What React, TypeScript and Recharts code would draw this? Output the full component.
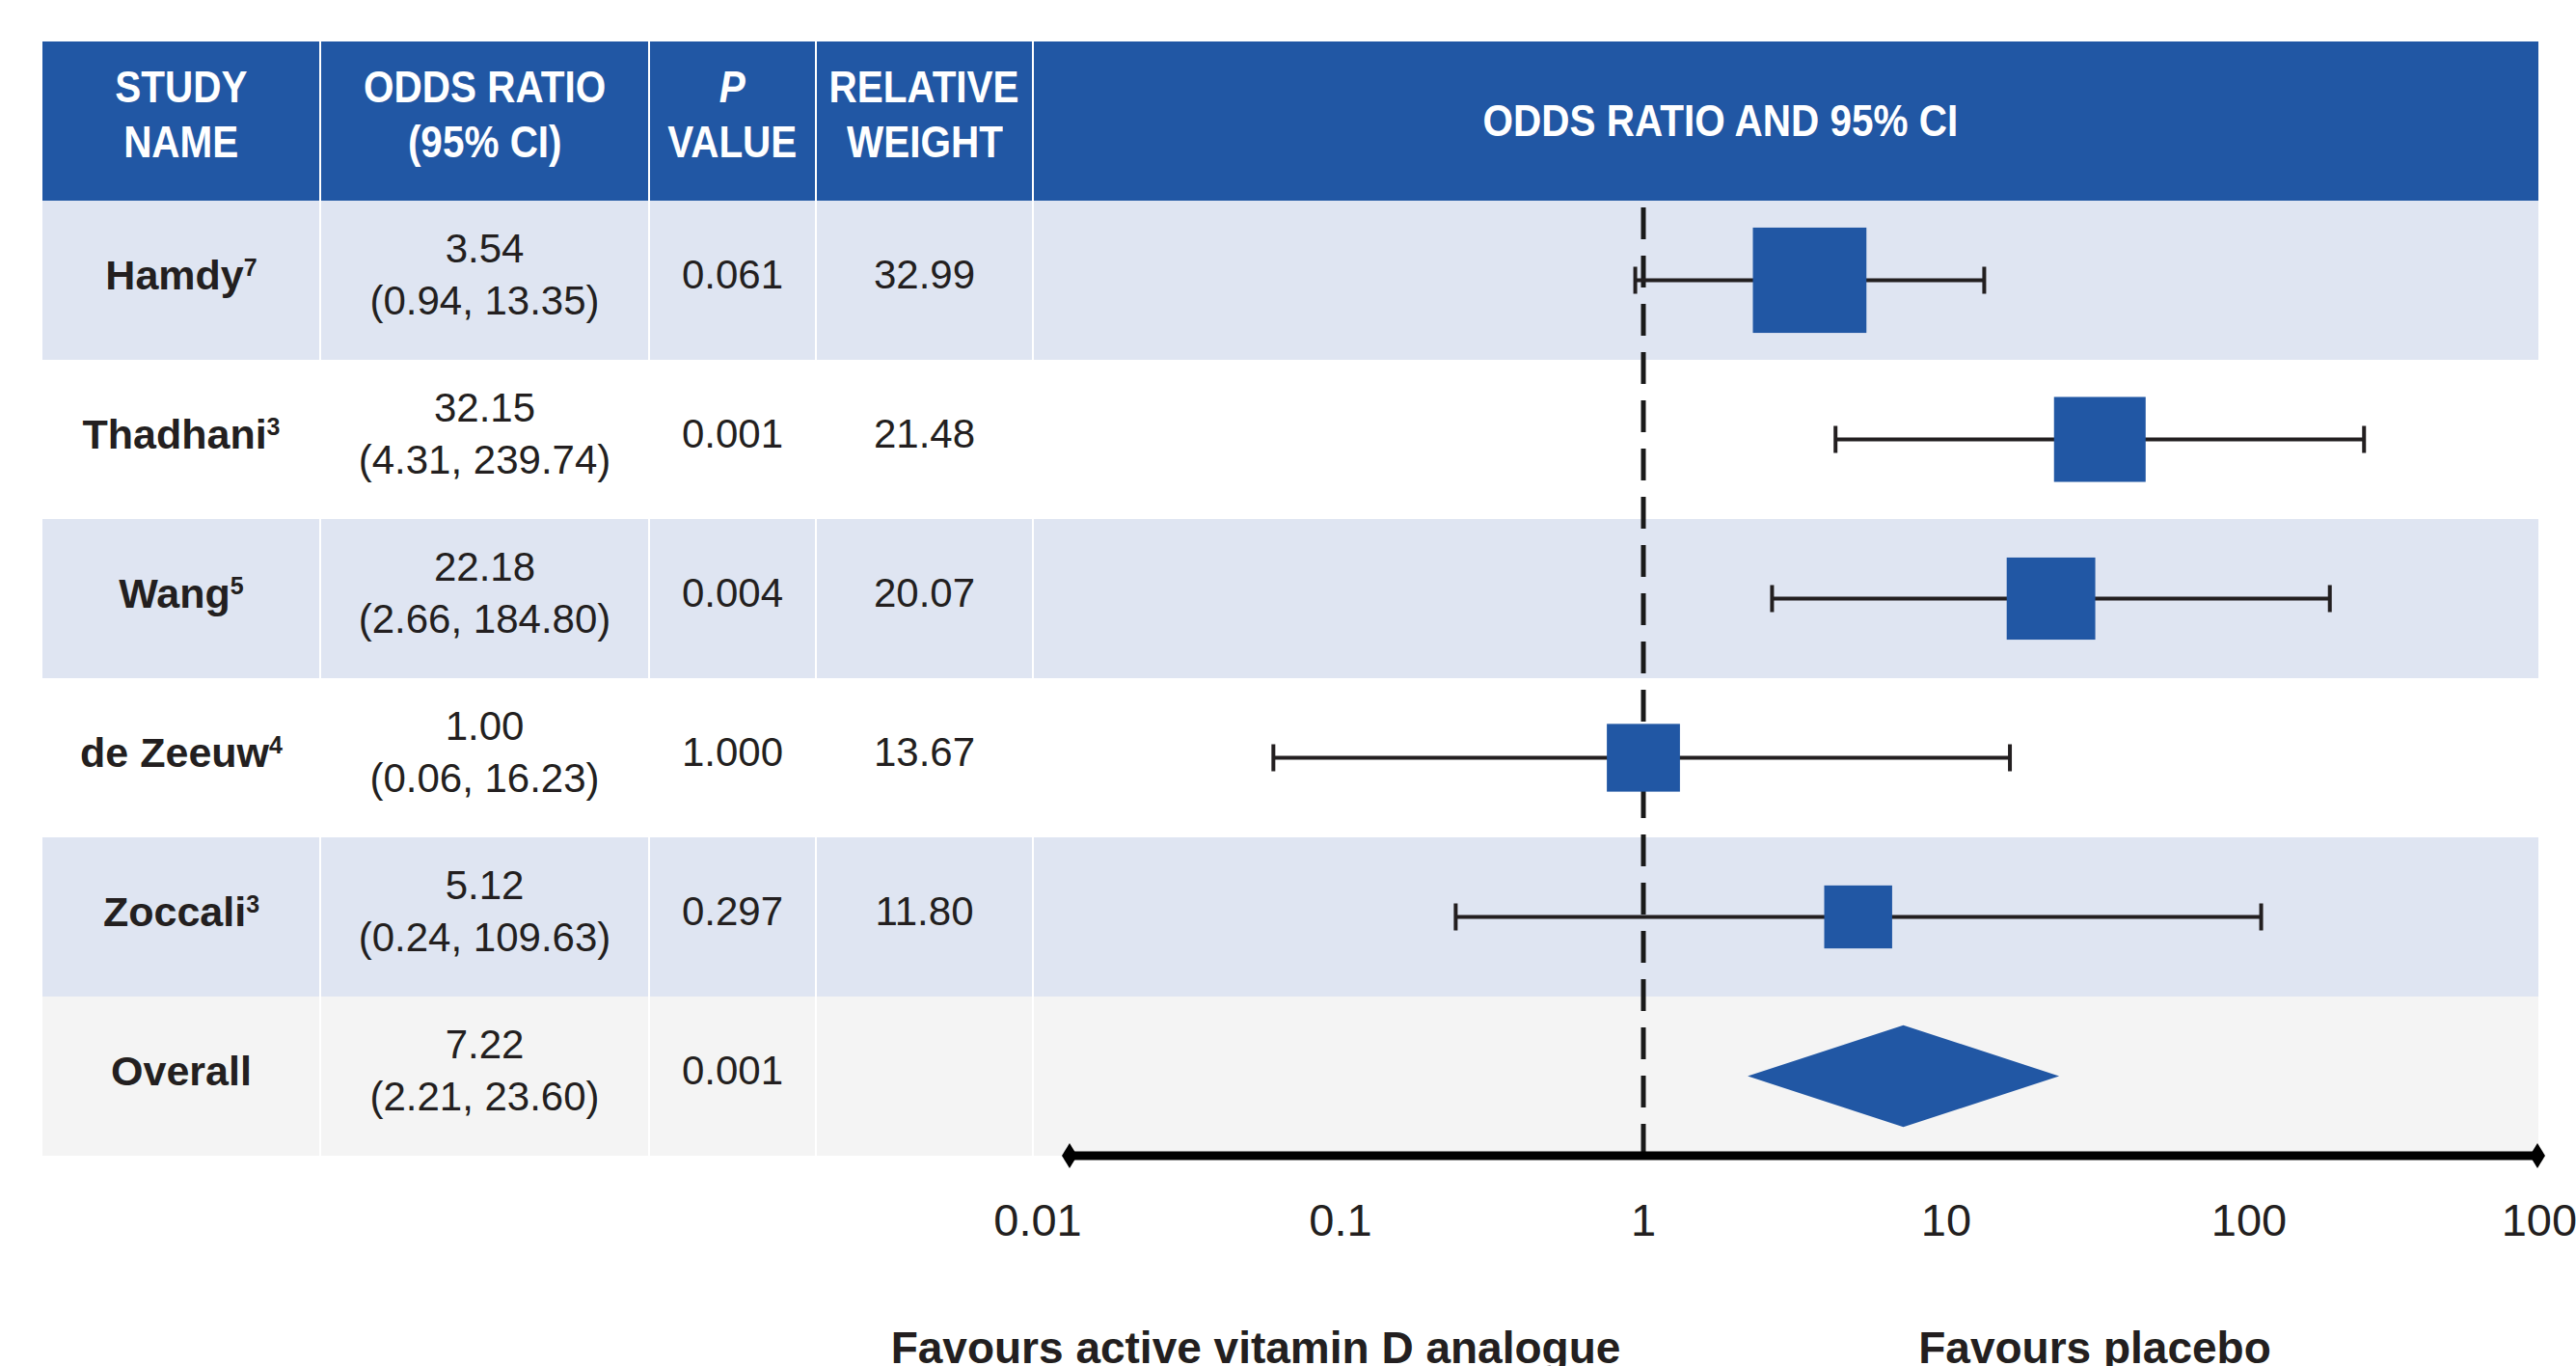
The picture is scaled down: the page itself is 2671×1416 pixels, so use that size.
import React from "react";
import { Area, ComposedChart, ErrorBar, ReferenceLine, Scatter, XAxis, YAxis } from "recharts";

const studyNames = ["Hamdy", "Thadhani", "Wang", "de Zeeuw", "Zoccali"];
const studyRefs = ["7", "3", "5", "4", "3"];
const oddsRatios = [3.54, 32.15, 22.18, 1.0, 5.12];
const ciLower = [0.94, 4.31, 2.66, 0.06, 0.24];
const ciUpper = [13.35, 239.74, 184.8, 16.23, 109.63];
const pValues = ["0.061", "0.001", "0.004", "1.000", "0.297"];
const relativeWeights = [32.99, 21.48, 20.07, 13.67, 11.8];

const overallOddsRatio = 7.22;
const overallLower = 2.21;
const overallUpper = 23.6;
const overallP = "0.001";

const axisTicks = [0.01, 0.1, 1, 10, 100, 1000];

const BLUE = "#2157a4";
const INK = "#231f20";
const BAND_BLUE = "#dfe5f2";
const BAND_GREY = "#f4f4f4";
const SANS = '"Liberation Sans", Arial, Helvetica, sans-serif';

// table geometry (page px)
const COLS = [44, 332, 673, 846, 1071, 2632];
const HEADER_TOP = 43;
const ROW_H = 165;
const BODY_TOP = HEADER_TOP + ROW_H;
const ROW_COUNT = studyNames.length + 1;
const DIAMOND_HALF = 0.32; // in row units
const CHART_LEFT = 990;

const fmt = (v: number) => v.toFixed(2);

const studyPoints = studyNames.map((name, i) => ({
  name,
  x: oddsRatios[i],
  y: i + 0.5,
  err: [oddsRatios[i] - ciLower[i], ciUpper[i] - oddsRatios[i]],
  weight: relativeWeights[i],
}));

const overallRow = studyNames.length + 0.5;
const diamondPoints = [
  { x: overallLower, band: [overallRow, overallRow] },
  { x: overallOddsRatio, band: [overallRow - DIAMOND_HALF, overallRow + DIAMOND_HALF] },
  { x: overallUpper, band: [overallRow, overallRow] },
];

const renderBox = (props: any) => {
  const { cx, cy, payload } = props;
  const s = Math.sqrt(payload.weight);
  const w = 20.5 * s;
  const h = 19 * s;
  return <rect x={cx - w / 2} y={cy - h / 2} width={w} height={h} fill={BLUE} />;
};

const cell = (col: number, top: number, extra?: React.CSSProperties): React.CSSProperties => ({
  position: "absolute",
  left: COLS[col],
  top,
  width: COLS[col + 1] - COLS[col],
  height: ROW_H,
  display: "flex",
  flexDirection: "column",
  alignItems: "center",
  justifyContent: "center",
  textAlign: "center",
  boxSizing: "border-box",
  ...extra,
});

const headStyle: React.CSSProperties = {
  color: "#fff",
  fontFamily: SANS,
  fontWeight: 700,
  fontSize: 46,
  lineHeight: "57px",
  paddingBottom: 14,
  whiteSpace: "nowrap",
};

// header type is a condensed face in the source
const squeeze: React.CSSProperties = { transform: "scaleX(0.88)" };

const nameStyle: React.CSSProperties = {
  color: INK,
  fontFamily: SANS,
  fontWeight: 700,
  fontSize: 43,
  lineHeight: "54px",
  paddingBottom: 12,
};

const valueStyle: React.CSSProperties = {
  color: INK,
  fontFamily: SANS,
  fontSize: 42,
  lineHeight: "54px",
  paddingBottom: 12,
};

const Sup = ({ children }: { children: React.ReactNode }) => (
  <span style={{ fontSize: 25, lineHeight: "25px", verticalAlign: "top", position: "relative", top: 7 }}>{children}</span>
);

export default function App() {
  const bandColors = Array.from({ length: ROW_COUNT }, (_, i) =>
    i === ROW_COUNT - 1 ? BAND_GREY : i % 2 === 0 ? BAND_BLUE : "#ffffff"
  );

  return (
    <div style={{ position: "absolute", left: 0, top: 0, width: 2671, height: 1416, background: "#fff", overflow: "hidden" }}>
      <svg width={0} height={0} style={{ position: "absolute" }}>
        <defs>
          <marker id="axisEnd" viewBox="-9 -14 18 28" markerWidth={18} markerHeight={28} markerUnits="userSpaceOnUse" refX={0} refY={0} orient="auto">
            <path d="M -8 0 L 0 -13 L 8 0 L 0 13 Z" fill="#000" />
          </marker>
        </defs>
      </svg>

      {/* header bar and row bands */}
      <div style={{ position: "absolute", left: COLS[0], top: HEADER_TOP, width: COLS[5] - COLS[0], height: ROW_H, background: BLUE }} />
      {bandColors.map((c, i) => (
        <div key={i} style={{ position: "absolute", left: COLS[0], top: BODY_TOP + i * ROW_H, width: COLS[5] - COLS[0], height: ROW_H, background: c }} />
      ))}
      {COLS.slice(1, 5).map((x) => (
        <div key={x} style={{ position: "absolute", left: x - 1, top: HEADER_TOP, width: 2, height: ROW_H * (ROW_COUNT + 1), background: "#ffffff" }} />
      ))}

      {/* header text */}
      <div style={{ ...cell(0, HEADER_TOP), ...headStyle }}><div style={squeeze}>STUDY</div><div style={squeeze}>NAME</div></div>
      <div style={{ ...cell(1, HEADER_TOP), ...headStyle }}><div style={squeeze}>ODDS RATIO</div><div style={squeeze}>(95% CI)</div></div>
      <div style={{ ...cell(2, HEADER_TOP), ...headStyle }}><div style={{ ...squeeze, fontStyle: "italic" }}>P</div><div style={squeeze}>VALUE</div></div>
      <div style={{ ...cell(3, HEADER_TOP), ...headStyle }}><div style={squeeze}>RELATIVE</div><div style={squeeze}>WEIGHT</div></div>
      <div style={{ ...cell(4, HEADER_TOP), ...headStyle, paddingBottom: 0, paddingRight: 136 }}><div style={squeeze}>ODDS RATIO AND 95% CI</div></div>

      {/* study rows */}
      {studyNames.map((name, i) => {
        const top = BODY_TOP + i * ROW_H;
        return (
          <React.Fragment key={name}>
            <div style={{ ...cell(0, top), ...nameStyle }}><div>{name}<Sup>{studyRefs[i]}</Sup></div></div>
            <div style={{ ...cell(1, top), ...valueStyle }}>
              <div>{fmt(oddsRatios[i])}</div>
              <div>({fmt(ciLower[i])}, {fmt(ciUpper[i])})</div>
            </div>
            <div style={{ ...cell(2, top), ...valueStyle }}>{pValues[i]}</div>
            <div style={{ ...cell(3, top), ...valueStyle }}>{fmt(relativeWeights[i])}</div>
          </React.Fragment>
        );
      })}
      {(() => {
        const top = BODY_TOP + studyNames.length * ROW_H;
        return (
          <>
            <div style={{ ...cell(0, top), ...nameStyle }}>Overall</div>
            <div style={{ ...cell(1, top), ...valueStyle }}>
              <div>{fmt(overallOddsRatio)}</div>
              <div>({fmt(overallLower)}, {fmt(overallUpper)})</div>
            </div>
            <div style={{ ...cell(2, top), ...valueStyle }}>{overallP}</div>
          </>
        );
      })()}

      {/* forest plot */}
      <div style={{ position: "absolute", left: CHART_LEFT, top: BODY_TOP, width: 2671 - CHART_LEFT, height: 1100 }}>
        <ComposedChart width={2671 - CHART_LEFT} height={1100} margin={{ top: 0, right: 40, bottom: 0, left: 1109 - CHART_LEFT }}>
          <XAxis
            type="number"
            dataKey="x"
            scale="log"
            domain={[0.01, 1000]}
            allowDataOverflow
            ticks={axisTicks}
            interval={0}
            padding={{ left: -33, right: -15 }}
            height={110}
            tickLine={false}
            tickSize={0}
            tickMargin={50}
            tickFormatter={(v) => String(v)}
            tick={{ fill: INK, fontSize: 47, fontFamily: SANS }}
            axisLine={{ stroke: "#000", strokeWidth: 9, markerStart: "url(#axisEnd)", markerEnd: "url(#axisEnd)" }}
          />
          <YAxis type="number" dataKey="y" domain={[0, ROW_COUNT]} reversed hide />
          <ReferenceLine x={1} stroke="#1a1a1a" strokeWidth={5} strokeDasharray="33 17" />
          <Scatter data={studyPoints} shape={renderBox} isAnimationActive={false}>
            <ErrorBar dataKey="err" direction="x" width={14} stroke={INK} strokeWidth={4} />
          </Scatter>
          <Area
            data={diamondPoints}
            dataKey="band"
            type="linear"
            stroke="none"
            fill={BLUE}
            fillOpacity={1}
            dot={false}
            activeDot={false}
            isAnimationActive={false}
          />
        </ComposedChart>
      </div>

      {/* direction labels */}
      <div style={{ position: "absolute", left: 802, top: 1374, width: 1000, textAlign: "center", fontFamily: SANS, fontWeight: 700, fontSize: 46, lineHeight: "46px", color: INK, whiteSpace: "nowrap" }}>
        Favours active vitamin D analogue
      </div>
      <div style={{ position: "absolute", left: 1872, top: 1374, width: 600, textAlign: "center", fontFamily: SANS, fontWeight: 700, fontSize: 46, lineHeight: "46px", color: INK, whiteSpace: "nowrap" }}>
        Favours placebo
      </div>
    </div>
  );
}
